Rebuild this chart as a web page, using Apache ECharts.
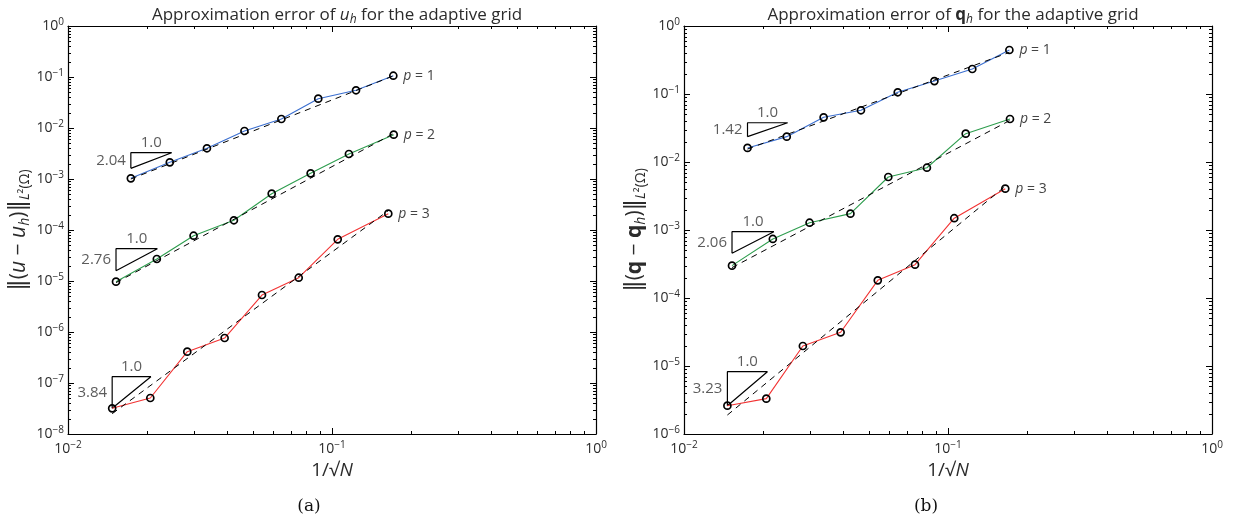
<!DOCTYPE html>
<html>
<head>
<meta charset="utf-8">
<script src="https://cdn.jsdelivr.net/npm/echarts@6/dist/echarts.min.js"></script>
<style>
  html, body { margin: 0; padding: 0; background: #fff; }
  #chart { width: 1236px; height: 523px; }
</style>
</head>
<body>
<div id="chart"></div>
<script>
// panel (a): error of u_h
var uX1 = [0.0173, 0.0243, 0.0336, 0.0466, 0.0643, 0.0887, 0.1233, 0.1707]
var uY1 = [1.03e-3, 2.12e-3, 4.0e-3, 8.73e-3, 1.50e-2, 3.76e-2, 5.49e-2, 0.106]
var uX2 = [0.0152, 0.0217, 0.0299, 0.0425, 0.0591, 0.0830, 0.1159, 0.1713]
var uY2 = [9.7e-6, 2.70e-5, 7.73e-5, 1.55e-4, 5.15e-4, 1.29e-3, 3.09e-3, 7.39e-3]
var uX3 = [0.0147, 0.0205, 0.0283, 0.0392, 0.0543, 0.0748, 0.1051, 0.1634]
var uY3 = [3.19e-8, 5.08e-8, 4.11e-7, 7.62e-7, 5.31e-6, 1.16e-5, 6.57e-5, 2.09e-4]
var uFit1 = [[0.0173, 1.0e-3], [0.1707, 0.105]]
var uFit2 = [[0.0152, 9.3e-6], [0.1713, 7.8e-3]]
var uFit3 = [[0.0147, 2.5e-8], [0.1634, 2.4e-4]]
// slope triangles: x0, x1, yLow, yHigh
var uTri1 = [0.0173, 0.0247, 1.62e-3, 3.28e-3]
var uTri2 = [0.0152, 0.0218, 1.59e-5, 4.30e-5]
var uTri3 = [0.0147, 0.0206, 3.19e-8, 1.33e-7]
var uSlopes = ['2.04', '2.76', '3.84']

// panel (b): error of q_h
var qX1 = [0.0174, 0.0245, 0.0338, 0.0468, 0.0645, 0.0888, 0.1236, 0.1708]
var qY1 = [1.61e-2, 2.36e-2, 4.54e-2, 5.76e-2, 0.106, 0.155, 0.233, 0.444]
var qX2 = [0.0152, 0.0217, 0.0299, 0.0427, 0.0594, 0.0832, 0.1167, 0.1717]
var qY2 = [2.99e-4, 7.38e-4, 1.28e-3, 1.74e-3, 6.02e-3, 8.24e-3, 2.61e-2, 4.29e-2]
var qX3 = [0.0146, 0.0205, 0.0282, 0.0392, 0.0542, 0.0750, 0.1056, 0.1648]
var qY3 = [2.61e-6, 3.31e-6, 1.97e-5, 3.13e-5, 1.82e-4, 3.09e-4, 1.49e-3, 4.05e-3]
var qFit1 = [[0.0174, 1.55e-2], [0.1708, 0.41]]
var qFit2 = [[0.0152, 2.8e-4], [0.1717, 4.1e-2]]
var qFit3 = [[0.0146, 1.9e-6], [0.1648, 4.4e-3]]
var qTri1 = [0.0174, 0.0247, 2.36e-2, 3.78e-2]
var qTri2 = [0.0152, 0.0219, 4.54e-4, 9.44e-4]
var qTri3 = [0.0146, 0.0207, 2.61e-6, 8.24e-6]
var qSlopes = ['1.42', '2.06', '3.23']

var orders = ['1', '2', '3']
var colors = ['#3b6fd0', '#2e9d4e', '#f23333']
var xRange = [0.01, 1]
var uRange = [1e-8, 1]
var qRange = [1e-6, 1]

var FONT = 'Open Sans'
var TXT = '#2b2b2b'

function richSet(size) {
    var s = Math.round(size * 0.68), off = Math.round(size * 0.55)
    return {
        n: { fontFamily: FONT, fontWeight: 'normal', color: TXT, fontSize: size },
        d: { fontFamily: 'DejaVu Sans', fontWeight: 'normal', color: TXT, fontSize: Math.round(size * 1.1) },
        i: { fontStyle: 'italic', fontWeight: 'normal', fontFamily: FONT, color: TXT, fontSize: size },
        b: { fontWeight: 'bold', fontFamily: FONT, color: TXT, fontSize: size },
        sub: { fontFamily: FONT, fontWeight: 'normal', color: TXT, fontSize: s, padding: [off, 0, 0, 0] },
        subi: { fontFamily: FONT, fontStyle: 'italic', fontWeight: 'normal', color: TXT, fontSize: s, padding: [off, 0, 0, 0] },
        sup: { fontFamily: FONT, fontWeight: 'normal', color: TXT, fontSize: s, padding: [0, 0, off, 0] }
    }
}

function zip(xs, ys) {
    return xs.map(function (x, k) { return [x, ys[k]] })
}

function logLabel(v) {
    var e = Math.round(Math.log10(v))
    return '{n|10}{sup|' + (e < 0 ? '\u2212' + (-e) : e) + '}'
}

// minor tick positions (2..9 x 10^k) for a log range
function minorTicks(range) {
    var out = []
    var lo = Math.round(Math.log10(range[0])), hi = Math.round(Math.log10(range[1]))
    for (var e = lo; e < hi; e++) {
        for (var m = 2; m <= 9; m++) out.push(m * Math.pow(10, e))
    }
    return out
}

function axesFor(g, yRange, yName) {
    var tickStyle = { inside: true, length: 6, lineStyle: { color: '#000', width: 1 } }
    var lineStyle = { show: true, onZero: false, lineStyle: { color: '#000', width: 1.2 } }
    var xs = [{
        type: 'log', logBase: 10, gridIndex: g, min: xRange[0], max: xRange[1], interval: 1,
        position: 'bottom', axisLine: lineStyle, axisTick: tickStyle, splitLine: { show: false },
        axisLabel: { formatter: logLabel, margin: 6, rich: richSet(14) },
        name: '{n|1/\u221A}{i|N}', nameLocation: 'middle', nameGap: 22,
        nameTextStyle: { rich: richSet(19) }
    }, {
        type: 'log', logBase: 10, gridIndex: g, min: xRange[0], max: xRange[1], interval: 1,
        position: 'top', axisLine: lineStyle, axisTick: tickStyle,
        axisLabel: { show: false }, splitLine: { show: false }
    }]
    var ys = [{
        type: 'log', logBase: 10, gridIndex: g, min: yRange[0], max: yRange[1], interval: 1,
        position: 'left', axisLine: lineStyle, axisTick: tickStyle, splitLine: { show: false },
        axisLabel: { formatter: logLabel, margin: 4, rich: richSet(14) },
        name: yName, nameLocation: 'middle', nameGap: 36, nameRotate: 90,
        nameTextStyle: { fontWeight: 'normal', rich: richSet(21) }
    }, {
        type: 'log', logBase: 10, gridIndex: g, min: yRange[0], max: yRange[1], interval: 1,
        position: 'right', axisLine: lineStyle, axisTick: tickStyle,
        axisLabel: { show: false }, splitLine: { show: false }
    }]
    return { xs: xs, ys: ys }
}

function minorSeries(g, yRange) {
    var data = []
    minorTicks(xRange).forEach(function (v) { data.push([v, yRange[0], 0]) })
    minorTicks(yRange).forEach(function (v) { data.push([xRange[0], v, 1]) })
    return {
        type: 'custom', xAxisIndex: g * 2, yAxisIndex: g * 2, silent: true, z: 1,
        data: data,
        renderItem: function (params, api) {
            var cs = params.coordSys
            var p = api.coord([api.value(0), api.value(1)])
            var st = { stroke: '#000', lineWidth: 1 }
            var L = 3
            if (api.value(2) === 0) {
                var x = Math.round(p[0]) + 0.5
                return { type: 'group', children: [
                    { type: 'line', shape: { x1: x, y1: cs.y + cs.height, x2: x, y2: cs.y + cs.height - L }, style: st },
                    { type: 'line', shape: { x1: x, y1: cs.y, x2: x, y2: cs.y + L }, style: st }
                ] }
            }
            var y = Math.round(p[1]) + 0.5
            return { type: 'group', children: [
                { type: 'line', shape: { x1: cs.x, y1: y, x2: cs.x + L, y2: y }, style: st },
                { type: 'line', shape: { x1: cs.x + cs.width, y1: y, x2: cs.x + cs.width - L, y2: y }, style: st }
            ] }
        }
    }
}

function panelSeries(g, X, Y, fits, tris, slopes) {
    var out = []
    var ax = g * 2
    for (var k = 0; k < 3; k++) {
        out.push({
            type: 'line', xAxisIndex: ax, yAxisIndex: ax, z: 3,
            data: zip(X[k], Y[k]),
            lineStyle: { color: colors[k], width: 1.1 },
            symbol: 'circle', symbolSize: 7, showAllSymbol: true,
            itemStyle: { color: 'rgba(0,0,0,0)', borderColor: '#000', borderWidth: 1.7 },
            endLabel: {
                show: true, distance: 10,
                formatter: '{i|p}{n| = ' + orders[k] + '}',
                rich: {
                    n: { fontFamily: FONT, fontSize: 14, color: '#444' },
                    i: { fontStyle: 'italic', fontFamily: FONT, fontSize: 14, color: '#444' }
                }
            }
        })
        out.push({
            type: 'line', xAxisIndex: ax, yAxisIndex: ax, z: 4,
            data: fits[k], symbol: 'none',
            lineStyle: { color: '#000', width: 1, type: [6, 5] }
        })
        var t = tris[k]
        out.push({
            type: 'line', xAxisIndex: ax, yAxisIndex: ax, z: 2,
            data: [[t[0], t[2]], [t[0], t[3]], [t[1], t[3]], [t[0], t[2]]],
            symbol: 'none', lineStyle: { color: '#000', width: 1.2 }
        })
        out.push({
            type: 'scatter', xAxisIndex: ax, yAxisIndex: ax, symbolSize: 0, silent: true,
            data: [
                { value: [Math.sqrt(t[0] * t[1]), t[3]],
                  label: { show: true, position: 'top', distance: 2, formatter: '1.0' } },
                { value: [t[0], Math.sqrt(t[2] * t[3])],
                  label: { show: true, position: 'left', distance: 5, formatter: slopes[k] } }
            ],
            label: { fontFamily: FONT, fontSize: 15, color: '#333' }
        })
    }
    out.push(minorSeries(g, g === 0 ? uRange : qRange))
    return out
}

var chart = echarts.init(document.getElementById('chart'), null, { renderer: 'canvas' })

var a = axesFor(0, uRange, '{d|\u2016}{n|(}{i|u}{n| \u2212 }{i|u}{subi|h}{n|)}{d|\u2016}{subi|L}{sub|\u00B2(\u03A9)}')
var b = axesFor(1, qRange, '{d|\u2016}{n|(}{b|q}{n| \u2212 }{b|q}{subi|h}{n|)}{d|\u2016}{subi|L}{sub|\u00B2(\u03A9)}')

var titleRich = richSet(17)

var option = {
    animation: false,
    backgroundColor: '#fff',
    title: [
        { text: '{n|Approximation error of }{i|u}{subi|h}{n| for the adaptive grid}', left: 332, top: 0, textAlign: 'center',
          textStyle: { fontWeight: 'normal', rich: titleRich } },
        { text: '{n|Approximation error of }{b|q}{subi|h}{n| for the adaptive grid}', left: 948, top: 0, textAlign: 'center',
          textStyle: { fontWeight: 'normal', rich: titleRich } },
        { text: '(a)', left: 304, top: 493, textAlign: 'center',
          textStyle: { fontFamily: 'DejaVu Serif', fontSize: 17, fontWeight: 'normal', color: '#111' } },
        { text: '(b)', left: 921, top: 493, textAlign: 'center',
          textStyle: { fontFamily: 'DejaVu Serif', fontSize: 17, fontWeight: 'normal', color: '#111' } }
    ],
    grid: [
        { left: 68, top: 26, width: 528, height: 408, show: false },
        { left: 684, top: 26, width: 528, height: 408, show: false }
    ],
    xAxis: a.xs.concat(b.xs),
    yAxis: a.ys.concat(b.ys),
    series: panelSeries(0, [uX1, uX2, uX3], [uY1, uY2, uY3], [uFit1, uFit2, uFit3], [uTri1, uTri2, uTri3], uSlopes)
        .concat(panelSeries(1, [qX1, qX2, qX3], [qY1, qY2, qY3], [qFit1, qFit2, qFit3], [qTri1, qTri2, qTri3], qSlopes))
}

chart.setOption(option)
</script>
</body>
</html>
